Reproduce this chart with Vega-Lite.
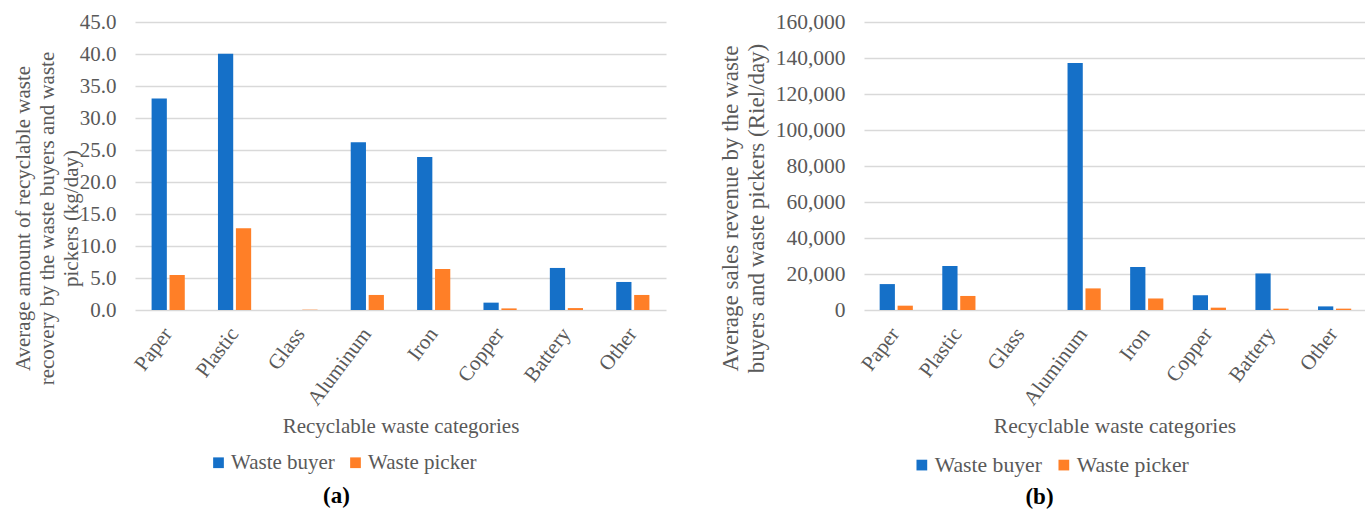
{
  "$schema": "https://vega.github.io/schema/vega-lite/v6.json",
  "padding": {"left": 11, "top": 11, "right": 0, "bottom": 0},
  "background": "white",
  "bounds": "flush",
  "spacing": 198,
  "config": {
    "view": {"stroke": null},
    "font": "Liberation Serif",
    "axis": {
      "labelFont": "Liberation Serif",
      "titleFont": "Liberation Serif",
      "labelColor": "#595959",
      "titleColor": "#595959",
      "labelFontSize": 21,
      "titleFontSize": 21,
      "titleFontWeight": "normal",
      "domain": false,
      "ticks": false,
      "tickSize": 0
    },
    "legend": {
      "labelFont": "Liberation Serif",
      "labelFontSize": 21,
      "labelColor": "#595959"
    }
  },
  "datasets": {
    "a": [
      {"category": "Paper", "group": "Waste buyer", "value": 33.05},
      {"category": "Paper", "group": "Waste picker", "value": 5.47},
      {"category": "Plastic", "group": "Waste buyer", "value": 40.04},
      {"category": "Plastic", "group": "Waste picker", "value": 12.77},
      {"category": "Glass", "group": "Waste buyer", "value": 0},
      {"category": "Glass", "group": "Waste picker", "value": 0.05},
      {"category": "Aluminum", "group": "Waste buyer", "value": 26.2},
      {"category": "Aluminum", "group": "Waste picker", "value": 2.35},
      {"category": "Iron", "group": "Waste buyer", "value": 23.9},
      {"category": "Iron", "group": "Waste picker", "value": 6.41},
      {"category": "Copper", "group": "Waste buyer", "value": 1.15},
      {"category": "Copper", "group": "Waste picker", "value": 0.25},
      {"category": "Battery", "group": "Waste buyer", "value": 6.57},
      {"category": "Battery", "group": "Waste picker", "value": 0.3},
      {"category": "Other", "group": "Waste buyer", "value": 4.38},
      {"category": "Other", "group": "Waste picker", "value": 2.35}
    ],
    "b": [
      {"category": "Paper", "group": "Waste buyer", "value": 14400},
      {"category": "Paper", "group": "Waste picker", "value": 2400},
      {"category": "Plastic", "group": "Waste buyer", "value": 24450},
      {"category": "Plastic", "group": "Waste picker", "value": 7800},
      {"category": "Glass", "group": "Waste buyer", "value": 0},
      {"category": "Glass", "group": "Waste picker", "value": 0},
      {"category": "Aluminum", "group": "Waste buyer", "value": 137200},
      {"category": "Aluminum", "group": "Waste picker", "value": 12000},
      {"category": "Iron", "group": "Waste buyer", "value": 23900},
      {"category": "Iron", "group": "Waste picker", "value": 6400},
      {"category": "Copper", "group": "Waste buyer", "value": 8200},
      {"category": "Copper", "group": "Waste picker", "value": 1300},
      {"category": "Battery", "group": "Waste buyer", "value": 20300},
      {"category": "Battery", "group": "Waste picker", "value": 750},
      {"category": "Other", "group": "Waste buyer", "value": 2000},
      {"category": "Other", "group": "Waste picker", "value": 750}
    ]
  },
  "resolve": {"scale": {"color": "independent", "x": "independent", "y": "independent"}, "legend": {"color": "independent"}},
  "hconcat": [
    {
      "width": 531,
      "height": 288,
      "data": {"name": "a"},
      "mark": {"type": "bar"},
      "title": {"text": "(a)", "orient": "bottom", "frame": "group", "anchor": "middle", "dx": -64, "offset": 12, "baseline": "top", "fontSize": 23, "fontWeight": "bold", "color": "black", "font": "Liberation Serif"},
      "encoding": {
        "x": {
          "field": "category", "type": "nominal",
          "sort": ["Paper", "Plastic", "Glass", "Aluminum", "Iron", "Copper", "Battery", "Other"],
          "scale": {"paddingInner": 0.5, "paddingOuter": 0.25},
          "axis": {"labelAngle": -53, "labelAlign": "right", "labelBaseline": "middle", "labelPadding": 20, "labelFont": "Liberation Serif", "titleFont": "Liberation Serif", "title": "Recyclable waste categories", "titleY": 116, "titleBaseline": "middle", "grid": false}
        },
        "xOffset": {"field": "group", "sort": ["Waste buyer", "Waste picker"], "scale": {"paddingInner": 0.15}},
        "y": {
          "field": "value", "type": "quantitative",
          "scale": {"domain": [0, 45], "nice": false},
          "axis": {"values": [0, 5, 10, 15, 20, 25, 30, 35, 40, 45], "format": ".1f", "labelPadding": 19, "labelFont": "Liberation Serif", "titleFont": "Liberation Serif", "grid": true, "gridColor": "#D9D9D9", "gridWidth": 1.5,
            "title": ["Average amount of recyclable waste", "recovery by the waste buyers and waste", "pickers (kg/day)"],
            "titleX": -112, "titleY": 196, "titleAngle": -90, "titleAlign": "center", "titleBaseline": "middle", "titleLineHeight": 24}
        },
        "color": {
          "field": "group", "type": "nominal",
          "scale": {"domain": ["Waste buyer", "Waste picker"], "range": ["#1570C8", "#FF7F27"]},
          "legend": {"orient": "none", "legendX": 73, "legendY": 430, "direction": "horizontal", "title": null, "symbolType": "square", "symbolSize": 115, "symbolStrokeWidth": 0, "labelOffset": 2, "columnPadding": 10, "padding": 0, "labelFont": "Liberation Serif", "labelFontSize": 21, "labelColor": "#595959"}
        }
      }
    },
    {
      "width": 501,
      "height": 288,
      "data": {"name": "b"},
      "mark": {"type": "bar"},
      "title": {"text": "(b)", "orient": "bottom", "frame": "group", "anchor": "middle", "dx": -75, "offset": 9, "baseline": "top", "fontSize": 23, "fontWeight": "bold", "color": "black", "font": "Liberation Serif"},
      "encoding": {
        "x": {
          "field": "category", "type": "nominal",
          "sort": ["Paper", "Plastic", "Glass", "Aluminum", "Iron", "Copper", "Battery", "Other"],
          "scale": {"paddingInner": 0.5, "paddingOuter": 0.25},
          "axis": {"labelAngle": -53, "labelAlign": "right", "labelBaseline": "middle", "labelPadding": 20, "labelFont": "Liberation Serif", "titleFont": "Liberation Serif", "title": "Recyclable waste categories", "titleY": 116, "titleBaseline": "middle", "titleFontSize": 21.5, "grid": false}
        },
        "xOffset": {"field": "group", "sort": ["Waste buyer", "Waste picker"], "scale": {"paddingInner": 0.15}},
        "y": {
          "field": "value", "type": "quantitative",
          "scale": {"domain": [0, 160000], "nice": false},
          "axis": {"values": [0, 20000, 40000, 60000, 80000, 100000, 120000, 140000, 160000], "format": ",.0f", "labelPadding": 19, "labelFontSize": 21.5, "labelFont": "Liberation Serif", "titleFont": "Liberation Serif", "grid": true, "gridColor": "#D9D9D9", "gridWidth": 1.5,
            "title": ["Average sales revenue by the waste", "buyers and waste pickers (Riel/day)"],
            "titleX": -134, "titleY": 186, "titleFontSize": 23, "titleAngle": -90, "titleAlign": "center", "titleBaseline": "middle", "titleLineHeight": 26}
        },
        "color": {
          "field": "group", "type": "nominal",
          "scale": {"domain": ["Waste buyer", "Waste picker"], "range": ["#1570C8", "#FF7F27"]},
          "legend": {"orient": "none", "legendX": 47, "legendY": 432, "direction": "horizontal", "title": null, "symbolType": "square", "symbolSize": 115, "symbolStrokeWidth": 0, "labelOffset": 2, "columnPadding": 11, "padding": 0, "labelFont": "Liberation Serif", "labelFontSize": 21.7, "labelColor": "#595959"}
        }
      }
    }
  ]
}
